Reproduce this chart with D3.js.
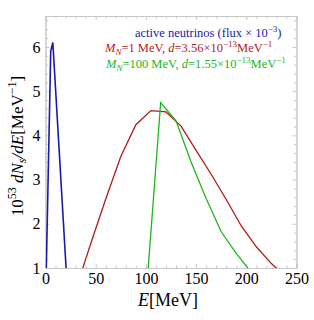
<!DOCTYPE html>
<html><head><meta charset="utf-8">
<script src="https://cdn.jsdelivr.net/npm/d3@7"></script>
<style>body{margin:0;background:#fff}svg{display:block}text{font-family:"Liberation Serif","DejaVu Serif",serif}</style>
</head><body><div id="c"></div>
<script>
const activeE = [0.8, 5.2, 7.3, 20.5];
const activeFlux = [1.0, 5.9, 6.1, 1.0];
const mn1E = [30, 45, 60, 75, 90, 105, 120, 135, 150, 165, 180, 195, 210, 225, 240];
const mn1Flux = [0.5, 1.55, 2.56, 3.52, 4.24, 4.56, 4.53, 4.21, 3.66, 3.12, 2.55, 1.95, 1.48, 1.1, 0.78];
const mn100E = [100, 114.7, 130, 145, 160, 175, 190, 205];
const mn100Flux = [0.3, 4.74, 4.33, 3.4, 2.57, 1.82, 1.33, 0.9];
const xTicks = [0, 50, 100, 150, 200, 250];
const yTicks = [1, 2, 3, 4, 5, 6];

const W = 314, H = 320;
const m = {l: 45.5, r: 17.5, t: 16, b: 52};
const svg = d3.select("#c").append("svg").attr("width", W).attr("height", H);
const x = d3.scaleLinear().domain([0, 250]).range([m.l, W - m.r]);
const y = d3.scaleLinear().domain([1, 6.7]).range([H - m.b, m.t]);

svg.append("clipPath").attr("id", "clip").append("rect")
  .attr("x", m.l).attr("y", m.t).attr("width", W - m.l - m.r).attr("height", H - m.t - m.b);

const frameCol = "#c8c8c8";
const xMinor = d3.range(0, 251, 10).filter(v => v % 50);
const yMinor = d3.range(1.2, 6.7, 0.2).filter(v => Math.abs(v - Math.round(v)) > 0.01);
const gB = svg.append("g").attr("transform", `translate(0,${H - m.b})`)
  .call(d3.axisBottom(x).tickValues(xTicks).tickSize(-4).tickPadding(5).tickFormat(d3.format("d")));
svg.append("g").attr("transform", `translate(0,${H - m.b})`)
  .call(d3.axisBottom(x).tickValues(xMinor).tickSize(-2.5).tickFormat(""));
svg.append("g").attr("transform", `translate(0,${m.t})`)
  .call(d3.axisTop(x).tickValues(xTicks).tickSize(-4).tickFormat(""));
svg.append("g").attr("transform", `translate(0,${m.t})`)
  .call(d3.axisTop(x).tickValues(xMinor).tickSize(-2.5).tickFormat(""));
svg.append("g").attr("transform", `translate(${m.l},0)`)
  .call(d3.axisLeft(y).tickValues(yTicks).tickSize(-4).tickPadding(5).tickFormat(d3.format("d")));
svg.append("g").attr("transform", `translate(${m.l},0)`)
  .call(d3.axisLeft(y).tickValues(yMinor).tickSize(-2.5).tickFormat(""));
svg.append("g").attr("transform", `translate(${W - m.r},0)`)
  .call(d3.axisRight(y).tickValues(yTicks).tickSize(-4).tickFormat(""));
svg.append("g").attr("transform", `translate(${W - m.r},0)`)
  .call(d3.axisRight(y).tickValues(yMinor).tickSize(-2.5).tickFormat(""));
svg.selectAll(".domain").attr("stroke", frameCol);
svg.selectAll(".tick line").attr("stroke", frameCol);
svg.selectAll(".tick text").attr("font-size", 16).attr("fill", "#000")
  .style("font-family", '"Liberation Serif",serif');
gB.selectAll(".tick text").attr("dy", "0.7em");

const line = d3.line().x(d => x(d[0])).y(d => y(d[1]));
const plot = svg.append("g").attr("clip-path", "url(#clip)");
const series = [
  {e: activeE, f: activeFlux, c: "#1a1aaa", w: 1.6},
  {e: mn1E, f: mn1Flux, c: "#b31b1b", w: 1.3},
  {e: mn100E, f: mn100Flux, c: "#1eb41e", w: 1.3}
];
series.forEach(s => {
  plot.append("path").datum(s.e.map((v, i) => [v, s.f[i]]))
    .attr("d", line).attr("fill", "none").attr("stroke", s.c).attr("stroke-width", s.w)
    .attr("stroke-linejoin", "miter");
});

const fs = 12.5;
const t1 = svg.append("text").attr("x", 135).attr("y", 37).attr("font-size", fs).attr("fill", "#1a1aaa");
t1.append("tspan").text("active neutrinos (flux \u00d7 10");
t1.append("tspan").attr("dy", -5).attr("font-size", 9).text("\u22123");
t1.append("tspan").attr("dy", 5).text(")");

const t2 = svg.append("text").attr("x", 105).attr("y", 52).attr("font-size", fs).attr("fill", "#b31b1b");
t2.append("tspan").attr("font-style", "italic").text("M");
t2.append("tspan").attr("font-style", "italic").attr("font-size", 9).attr("dy", 3).text("N");
t2.append("tspan").attr("dy", -3).text("=1 MeV, ");
t2.append("tspan").attr("font-style", "italic").text("d");
t2.append("tspan").text("=3.56\u00d710");
t2.append("tspan").attr("dy", -5).attr("font-size", 9).text("\u221213");
t2.append("tspan").attr("dy", 5).text("MeV");
t2.append("tspan").attr("dy", -5).attr("font-size", 9).text("\u22121");

const t3 = svg.append("text").attr("x", 106).attr("y", 68).attr("font-size", fs).attr("fill", "#1eb41e");
t3.append("tspan").attr("font-style", "italic").text("M");
t3.append("tspan").attr("font-style", "italic").attr("font-size", 9).attr("dy", 3).text("N");
t3.append("tspan").attr("dy", -3).text("=100 MeV, ");
t3.append("tspan").attr("font-style", "italic").text("d");
t3.append("tspan").text("=1.55\u00d710");
t3.append("tspan").attr("dy", -5).attr("font-size", 9).text("\u221213");
t3.append("tspan").attr("dy", 5).text("MeV");
t3.append("tspan").attr("dy", -5).attr("font-size", 9).text("\u22121");

const xl = svg.append("text").attr("x", 168).attr("y", 306).attr("text-anchor", "middle").attr("font-size", 18);
xl.append("tspan").attr("font-style", "italic").text("E");
xl.append("tspan").text("[MeV]");

const yl = svg.append("text").attr("transform", `translate(23,${(m.t + H - m.b) / 2 + 4}) rotate(-90)`)
  .attr("text-anchor", "middle").attr("font-size", 17);
yl.append("tspan").text("10");
yl.append("tspan").attr("dy", -7).attr("font-size", 12).text("53");
yl.append("tspan").attr("dy", 7).attr("font-style", "italic").text(" dN");
yl.append("tspan").attr("dy", 3).attr("font-size", 12).attr("font-style", "italic").text("s");
yl.append("tspan").attr("dy", -3).attr("font-style", "italic").text("/dE");
yl.append("tspan").text("[MeV");
yl.append("tspan").attr("dy", -7).attr("font-size", 12).text("\u22121");
yl.append("tspan").attr("dy", 7).text("]");
</script></body></html>
